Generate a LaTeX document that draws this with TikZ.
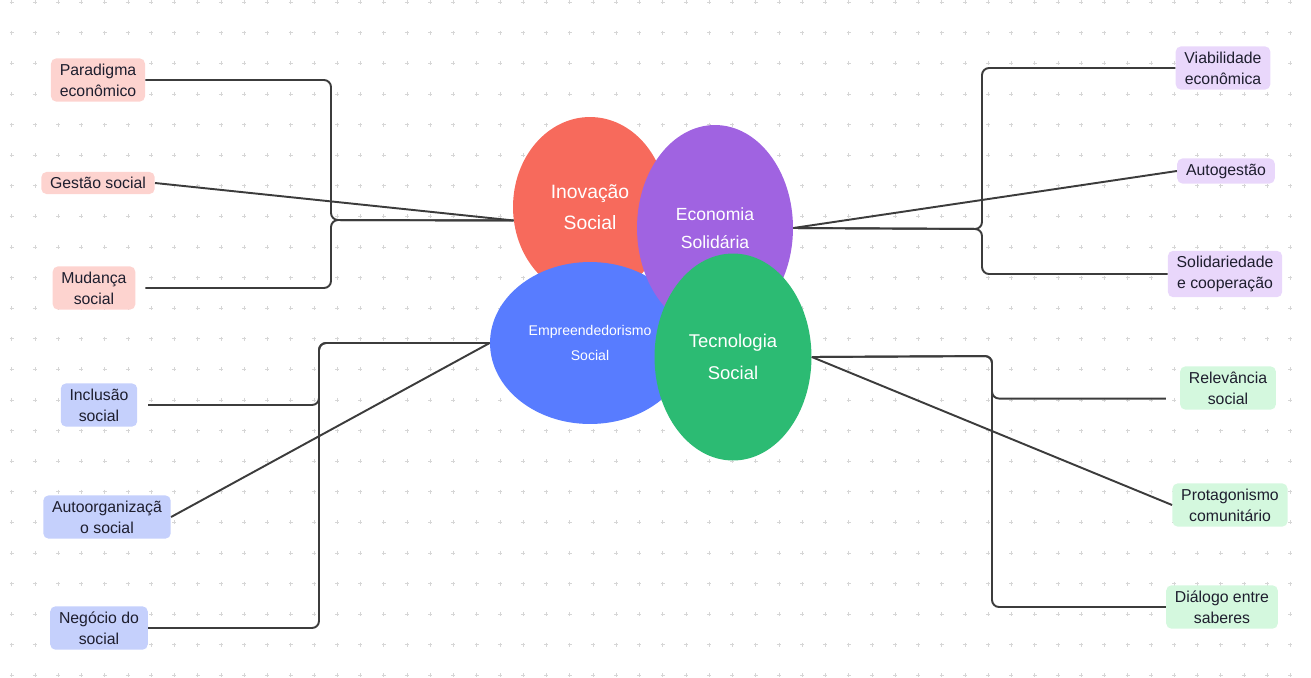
\documentclass[tikz,border=0pt]{standalone}
\usepackage{fontspec}
\setmainfont{Liberation Sans}
\usetikzlibrary{shapes.geometric}

\definecolor{inored}{HTML}{F76A5C}
\definecolor{ecopurple}{HTML}{A063E1}
\definecolor{empblue}{HTML}{587CFF}
\definecolor{tecgreen}{HTML}{2CBB73}
\definecolor{pinkleaf}{HTML}{FDD3CF}
\definecolor{lilacleaf}{HTML}{E9D7FB}
\definecolor{blueleaf}{HTML}{C5D0FC}
\definecolor{greenleaf}{HTML}{D4F8DE}
\definecolor{leaftext}{HTML}{1E1E2E}
\definecolor{linkgray}{HTML}{3C3C3C}
\definecolor{dotgray}{HTML}{D6D6D6}

\begin{document}
\begin{tikzpicture}[x=0.02cm,y=-0.02cm,
  bubble/.style={ellipse,inner sep=0pt,text=white,align=center},
  leaf/.style={rounded corners=3pt,inner xsep=5pt,inner ysep=3pt,align=center,
    text=leaftext,font=\fontsize{9}{12}\selectfont},
  link/.style={draw=linkgray,line width=1.1pt,rounded corners=4pt},
  dotmark/.style={draw=dotgray,line width=0.4pt}]

\useasboundingbox (0,0) rectangle (1311,677);

\foreach \i in {0,...,55}
  \foreach \j in {-2,...,20}
    \draw[dotmark] ({11.7+23.25*\i-2},{63.3+30.6*\j}) -- ++(4,0)
      ++(-2,-2) -- ++(0,4);

\node[bubble,fill=inored,minimum width=3.08cm,minimum height=3.6cm,
  font=\fontsize{11}{18}\selectfont] (ino) at (590,207) {Inovação\\Social};
\node[bubble,fill=empblue,minimum width=4cm,minimum height=3.24cm,
  font=\fontsize{8}{14}\selectfont] (emp) at (590,343) {Empreendedorismo\\Social};
\node[bubble,fill=ecopurple,minimum width=3.12cm,minimum height=4.12cm,
  font=\fontsize{10}{16}\selectfont] (eco) at (715,228) {Economia\\Solidária};
\node[bubble,fill=tecgreen,minimum width=3.14cm,minimum height=4.14cm,
  font=\fontsize{10.5}{18}\selectfont] (tec) at (733,357) {Tecnologia\\Social};

\node[leaf,fill=pinkleaf] (parad) at (98,80) {Paradigma\\econômico};
\node[leaf,fill=pinkleaf] (gest) at (98,183) {Gestão social};
\node[leaf,fill=pinkleaf] (mud) at (94,288) {Mudança\\social};
\node[leaf,fill=blueleaf] (incl) at (99,405) {Inclusão\\social};
\node[leaf,fill=blueleaf] (auto) at (107,517) {Autoorganizaçã\\o social};
\node[leaf,fill=blueleaf] (neg) at (99,628) {Negócio do\\social};
\node[leaf,fill=lilacleaf] (viab) at (1223,68) {Viabilidade\\econômica};
\node[leaf,fill=lilacleaf] (autog) at (1226,171) {Autogestão};
\node[leaf,fill=lilacleaf] (solid) at (1225,274) {Solidariedade\\e cooperação};
\node[leaf,fill=greenleaf] (relev) at (1228,388) {Relevância\\social};
\node[leaf,fill=greenleaf] (protag) at (1230,505) {Protagonismo\\comunitário};
\node[leaf,fill=greenleaf] (dial) at (1222,607) {Diálogo entre\\saberes};

\coordinate (pk) at (331,220);
\draw[link] (parad.east) -| (pk) -- (ino.190);
\draw[link] (mud.east -| parad.east) -| (pk) -- (ino.190);
\draw[link] (gest.east) -- (ino.190);

\coordinate (bu) at (319,343);
\draw[link] (neg.east) -| (bu) -- (emp.west);
\draw[link] (incl.east -| neg.east) -| (bu) -- (emp.west);
\draw[link] (auto.east) -- (emp.west);

\coordinate (pu) at (982,229);
\draw[link] (eco.east) -- (pu) |- (viab.west);
\draw[link] (eco.east) -- (pu) |- (solid.west);
\draw[link] (eco.east) -- (autog.west);

\coordinate (gr) at (992,356);
\coordinate (relin) at ([yshift=-6pt]relev.west);
\draw[link] (tec.east) -- (gr) |- (relin -| dial.west);
\draw[link] (tec.east) -- (gr) |- (dial.west);
\draw[link] (tec.east) -- (protag.west);
\end{tikzpicture}
\end{document}
